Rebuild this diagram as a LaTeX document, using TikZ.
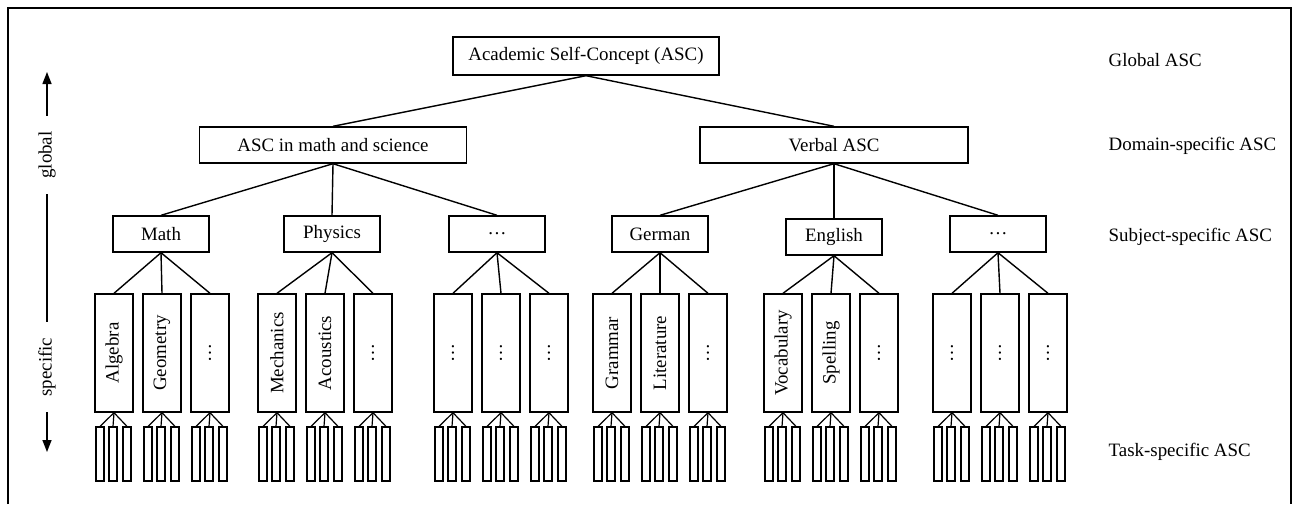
\documentclass[tikz,border=0pt]{standalone}
\usepackage{fontspec}
\setmainfont{Liberation Serif}
\usetikzlibrary{arrows.meta}

\begin{document}
\begin{tikzpicture}[x=1pt,y=-1pt,line width=1.4pt,
    every node/.style={font=\fontsize{18.9}{22}\selectfont},
    ascbox/.style={shape=rectangle,draw=black,inner sep=0pt,minimum height=36pt},
    taskbox/.style={shape=rectangle,draw=black,inner sep=0pt,minimum width=38pt,minimum height=118pt},
    itembox/.style={shape=rectangle,draw=black,line width=1.2pt,inner sep=0pt,minimum width=8pt,minimum height=54pt},
    levellabel/.style={anchor=west,inner sep=0pt},
    axislabel/.style={rotate=90,inner xsep=15pt,inner ysep=0pt},
    axisarrow/.style={-{Triangle[length=12pt,width=9pt]}}]

  \useasboundingbox (0,0) rectangle (1298,504);

  % frame, open at the bottom
  \draw[line width=2.6pt] (8,504) -- (8,8) -- (1291,8) -- (1291,504);

  % top of the hierarchy
  \node[ascbox,minimum width=266pt,minimum height=38pt] (asc) at (586,56) {Academic Self-Concept (ASC)};

  % domain level
  \node[ascbox,minimum width=267pt] (mathsci) at (333,145) {ASC in math and science};
  \node[ascbox,minimum width=268pt] (verbal) at (834,145) {Verbal ASC};
  \draw (asc.south) -- (mathsci.north);
  \draw (asc.south) -- (verbal.north);

  % subject level
  \foreach \n/\x/\y/\txt/\up in {math/161/234/Math/mathsci,phys/332/234/Physics/mathsci,
      mdots/497/234/\dots/mathsci,germ/660/234/German/verbal,engl/834/237/English/verbal,
      vdots/998/234/\dots/verbal}
  {
    \node[ascbox,minimum width=96pt] (\n) at (\x,\y) {\txt};
    \draw (\up.south) -- (\n.north);
  }

  % sub-subject level and the tasks below it
  \foreach \g/\x/\first/\second in {math/114/Algebra/Geometry,phys/277/Mechanics/Acoustics,
      mdots/453/\dots/\dots,germ/612/Grammar/Literature,engl/783/Vocabulary/Spelling,
      vdots/952/\dots/\dots}
  {
    \node[taskbox] (\g-1) at (\x,353) {\rotatebox{90}{\first}};
    \node[taskbox] (\g-2) at (\x+48,353) {\rotatebox{90}{\second}};
    \node[taskbox] (\g-3) at (\x+96,353) {\rotatebox{90}{\dots}};
    \foreach \i in {1,2,3}
    {
      \draw (\g.south) -- (\g-\i.north);
      \pgfmathsetmacro\cx{\x+48*(\i-1)}
      \foreach \j/\dx in {1/-14,2/-1,3/13}
      {
        \node[itembox] (\g-\i-\j) at (\cx+\dx,454) {};
        \draw[line width=1.2pt] (\g-\i.south) -- (\g-\i-\j.north);
      }
    }
  }

  % global / specific axis
  \coordinate (gtop) at (47,72);
  \coordinate (sbot) at (47,452);
  \node[axislabel] (glob) at (47,155) {global};
  \node[axislabel] (spec) at (47,367) {specific};
  \draw[axisarrow] (glob.east) -- (gtop);
  \draw (glob.west) -- (spec.east);
  \draw[axisarrow] (spec.west) -- (sbot);

  % level names
  \node[levellabel] (lglobal) at (1108,60) {Global ASC};
  \node[levellabel] (ldomain) at (1108,146) {Domain-specific ASC};
  \node[levellabel] (lsubject) at (1108,237) {Subject-specific ASC};
  \node[levellabel] (ltask) at (1108,452) {Task-specific ASC};

\end{tikzpicture}
\end{document}
